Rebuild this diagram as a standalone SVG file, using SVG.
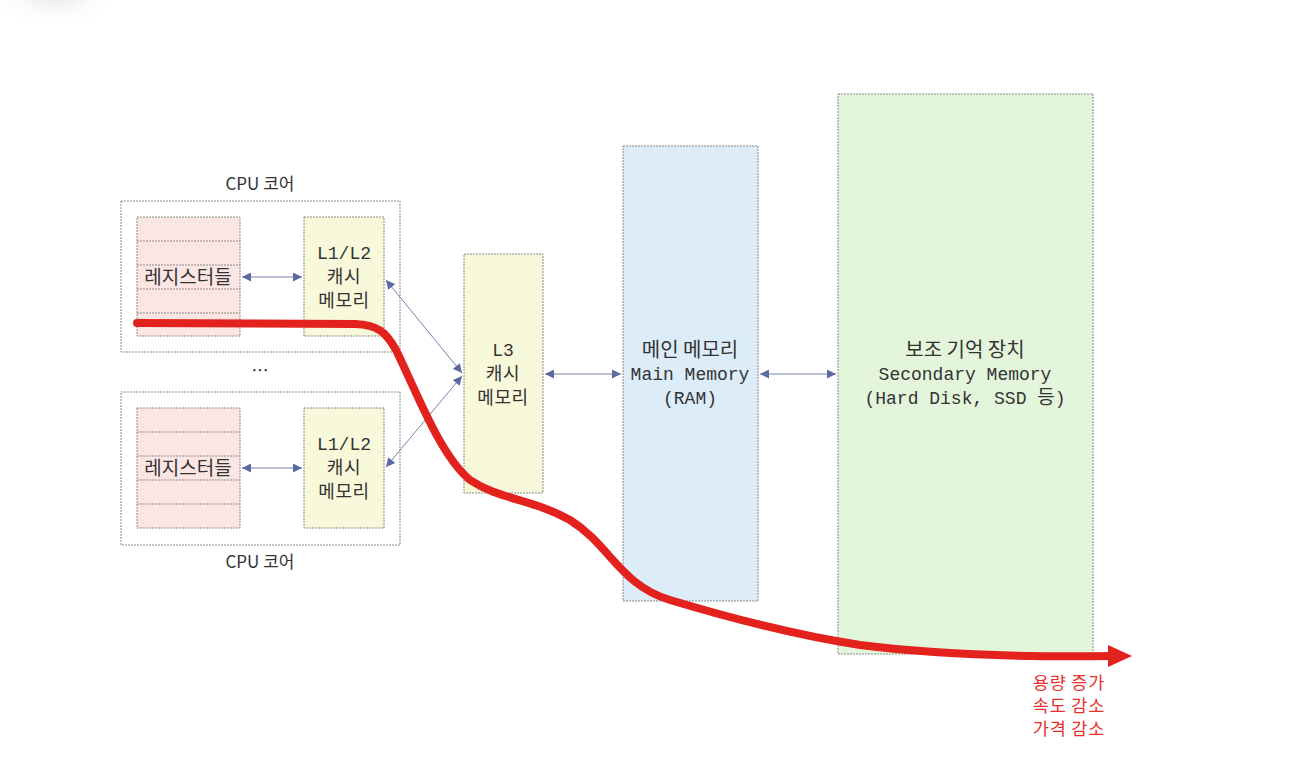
<svg xmlns="http://www.w3.org/2000/svg" width="1290" height="770" viewBox="0 0 1290 770">
<defs>
<style>
.box{stroke:#8a8a8a;stroke-width:1;stroke-dasharray:2 1}
.reg{fill:#fbe6e4}
.cache{fill:#f8f8da}
.ram{fill:#dcecf9}
.ssd{fill:#e3f6dc}
.core{fill:#ffffff}
.row{stroke:#8a8a8a;stroke-width:1;stroke-dasharray:2 1;fill:none}
.ko{font-family:"Noto Sans CJK KR","Noto Sans",sans-serif;font-size:18px;letter-spacing:0.6px;fill:#333;text-anchor:middle}
.regt{font-size:19px;letter-spacing:0}
.big{font-size:20px;letter-spacing:0}
.cap{font-family:"Noto Sans CJK KR","Noto Sans",sans-serif;font-size:17px;fill:#333;text-anchor:middle}
.mono{font-family:"Liberation Mono","DejaVu Sans Mono","Noto Sans CJK KR",monospace;font-size:18px;fill:#333;text-anchor:middle}
.red{font-family:"Noto Sans CJK KR","Noto Sans",sans-serif;font-size:17.5px;letter-spacing:0.8px;fill:#e8302c;text-anchor:middle}
.conn{stroke:#7782ad;stroke-width:1;fill:none;marker-start:url(#ah);marker-end:url(#ah)}
</style>
<marker id="ah" viewBox="0 0 10 10" refX="10" refY="5" markerWidth="11" markerHeight="9" markerUnits="userSpaceOnUse" orient="auto-start-reverse">
<path d="M0,0 L10,5 L0,10 Z" fill="#5d6aa0"/>
</marker>
<radialGradient id="smudge" cx="0.5" cy="0.5" r="0.5">
<stop offset="0" stop-color="#d8d8d8" stop-opacity="0.8"/>
<stop offset="1" stop-color="#ffffff" stop-opacity="0"/>
</radialGradient>
</defs>
<rect width="1290" height="770" fill="#ffffff"/>
<ellipse cx="55" cy="-10" rx="70" ry="40" fill="url(#smudge)"/>

<g id="core-top">
<text class="cap" x="260" y="190">CPU 코어</text>
<rect class="box core" x="121" y="201" width="279" height="151"/>
</g>
<g id="registers-top">
<rect class="box reg" x="137" y="217" width="103" height="119"/>
<path class="row" d="M137,241H240M137,265H240M137,289H240M137,313H240"/>
<text class="ko regt" x="188" y="284">레지스터들</text>
</g>
<g id="l12-top">
<rect class="box cache" x="304" y="217" width="80" height="119"/>
<text class="mono" x="344" y="259">L1/L2</text>
<text class="ko" x="344" y="283">캐시</text>
<text class="ko" x="344" y="307">메모리</text>
</g>

<text class="cap" x="260" y="377">…</text>

<g id="core-bottom">
<rect class="box core" x="121" y="392" width="279" height="153"/>
<text class="cap" x="260" y="568">CPU 코어</text>
</g>
<g id="registers-bottom">
<rect class="box reg" x="137" y="408" width="103" height="120"/>
<path class="row" d="M137,432H240M137,456H240M137,480H240M137,504H240"/>
<text class="ko regt" x="188" y="475">레지스터들</text>
</g>
<g id="l12-bottom">
<rect class="box cache" x="304" y="408" width="80" height="120"/>
<text class="mono" x="344" y="450">L1/L2</text>
<text class="ko" x="344" y="474">캐시</text>
<text class="ko" x="344" y="498">메모리</text>
</g>

<g id="l3">
<rect class="box cache" x="464" y="254" width="79" height="239"/>
<text class="mono" x="503" y="356">L3</text>
<text class="ko" x="503" y="380">캐시</text>
<text class="ko" x="503" y="404">메모리</text>
</g>

<g id="ram">
<rect class="box ram" x="623" y="146" width="135" height="455"/>
<text class="ko big" x="690" y="357">메인 메모리</text>
<text class="mono" x="690" y="380">Main Memory</text>
<text class="mono" x="690" y="404">(RAM)</text>
</g>

<g id="secondary">
<rect class="box ssd" x="838" y="94" width="255" height="560"/>
<text class="ko big" x="965" y="357">보조 기억 장치</text>
<text class="mono" x="965" y="380">Secondary Memory</text>
<text class="mono" x="965" y="404">(Hard Disk, SSD <tspan font-family="Noto Sans CJK KR" font-size="19px">등</tspan>)</text>
</g>

<g id="connectors">
<line class="conn" x1="242" y1="277" x2="302" y2="277"/>
<line class="conn" x1="242" y1="468" x2="302" y2="468"/>
<line class="conn" x1="386" y1="280" x2="462" y2="373"/>
<line class="conn" x1="462" y1="376" x2="386" y2="467"/>
<line class="conn" x1="545" y1="374" x2="621" y2="374"/>
<line class="conn" x1="760" y1="374" x2="836" y2="374"/>
</g>

<g id="trend">
<path d="M137,323 L355,324 C378,325 386,332 396,350 C418,395 440,455 470,480 C500,500 530,498 570,520 C610,545 620,585 670,600 C730,618 800,636 860,645 C940,655 1040,657 1112,656" fill="none" stroke="#e3211d" stroke-width="8" stroke-linecap="round"/>
<polygon points="1108,645 1132,656 1108,667" fill="#e3211d"/>
<text class="red" x="1069" y="689">용량 증가</text>
<text class="red" x="1069" y="712">속도 감소</text>
<text class="red" x="1069" y="735">가격 감소</text>
</g>
</svg>
